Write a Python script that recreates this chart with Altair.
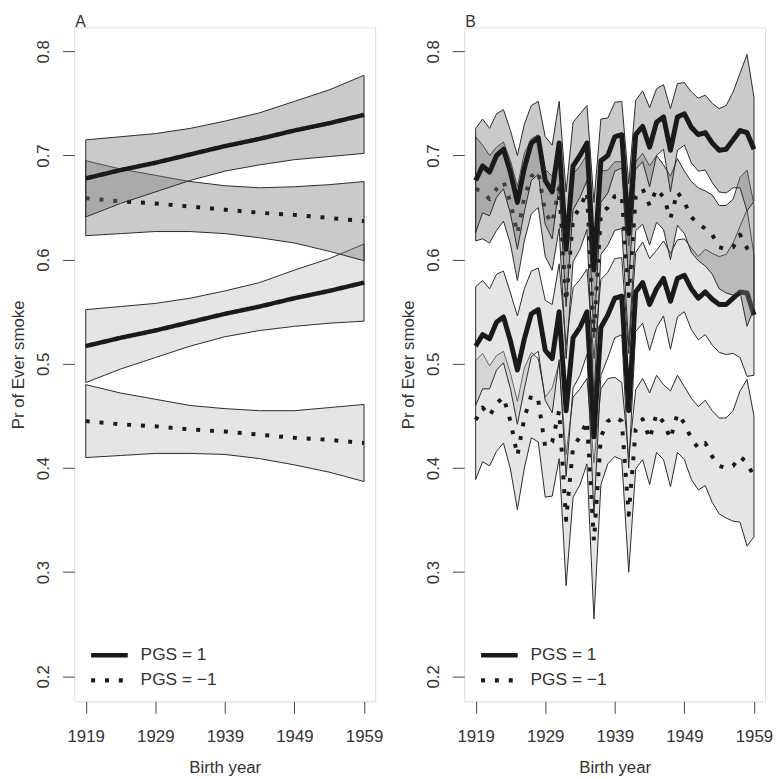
import altair as alt
import pandas as pd

FONT = "Liberation Sans"

# ---------------- Panel A (linear birth-year trend) ----------------
years_a = [1919, 1924, 1929, 1934, 1939, 1944, 1949, 1954, 1959]
a_s1_c = [0.678, 0.686, 0.693, 0.701, 0.709, 0.716, 0.724, 0.731, 0.739]
a_s1_lo = [0.641, 0.654, 0.665, 0.676, 0.685, 0.691, 0.696, 0.699, 0.702]
a_s1_hi = [0.715, 0.718, 0.721, 0.726, 0.733, 0.741, 0.752, 0.763, 0.777]
a_d1_c = [0.659, 0.656, 0.654, 0.651, 0.648, 0.645, 0.643, 0.640, 0.637]
a_d1_lo = [0.623, 0.625, 0.627, 0.627, 0.625, 0.621, 0.616, 0.608, 0.599]
a_d1_hi = [0.695, 0.687, 0.681, 0.675, 0.671, 0.669, 0.670, 0.672, 0.675]
a_s2_c = [0.517, 0.525, 0.532, 0.540, 0.548, 0.555, 0.563, 0.570, 0.578]
a_s2_lo = [0.482, 0.495, 0.506, 0.517, 0.526, 0.532, 0.536, 0.539, 0.541]
a_s2_hi = [0.552, 0.555, 0.558, 0.563, 0.570, 0.578, 0.590, 0.601, 0.615]
a_d2_c = [0.445, 0.442, 0.440, 0.437, 0.435, 0.432, 0.429, 0.427, 0.424]
a_d2_lo = [0.410, 0.412, 0.414, 0.414, 0.413, 0.409, 0.403, 0.396, 0.387]
a_d2_hi = [0.480, 0.472, 0.466, 0.460, 0.457, 0.455, 0.455, 0.458, 0.461]

# ---------------- Panel B (birth year as factor) ----------------
years_b = [1919, 1920, 1921, 1922, 1923, 1924, 1925, 1926, 1927, 1928,
           1929, 1930, 1931, 1932, 1933, 1934, 1935, 1936, 1937, 1938,
           1939, 1940, 1941, 1942, 1943, 1944, 1945, 1946, 1947, 1948,
           1949, 1950, 1951, 1952, 1953, 1954, 1955, 1956, 1957, 1958, 1959]
b_s1_c = [0.676, 0.690, 0.684, 0.700, 0.706, 0.684, 0.655, 0.688, 0.712, 0.717,
          0.676, 0.665, 0.712, 0.610, 0.690, 0.700, 0.712, 0.590, 0.695, 0.700,
          0.718, 0.720, 0.625, 0.720, 0.728, 0.708, 0.732, 0.737, 0.705, 0.737,
          0.740, 0.727, 0.720, 0.722, 0.712, 0.705, 0.706, 0.715, 0.724, 0.722, 0.706]
b_d1_c = [0.668, 0.665, 0.658, 0.668, 0.675, 0.655, 0.625, 0.660, 0.680, 0.685,
          0.645, 0.635, 0.670, 0.560, 0.640, 0.650, 0.665, 0.530, 0.645, 0.650,
          0.661, 0.662, 0.565, 0.661, 0.668, 0.652, 0.668, 0.660, 0.640, 0.665,
          0.655, 0.641, 0.634, 0.630, 0.624, 0.612, 0.610, 0.612, 0.624, 0.611, 0.603]
b_s2_c = [0.517, 0.528, 0.524, 0.540, 0.545, 0.522, 0.494, 0.524, 0.548, 0.552,
          0.513, 0.505, 0.550, 0.455, 0.525, 0.535, 0.550, 0.430, 0.535, 0.547,
          0.563, 0.565, 0.455, 0.569, 0.578, 0.557, 0.572, 0.582, 0.560, 0.582,
          0.585, 0.572, 0.563, 0.569, 0.562, 0.557, 0.557, 0.563, 0.569, 0.568, 0.547]
b_d2_c = [0.446, 0.458, 0.450, 0.462, 0.468, 0.445, 0.412, 0.448, 0.470, 0.465,
          0.420, 0.425, 0.455, 0.350, 0.420, 0.430, 0.445, 0.330, 0.430, 0.445,
          0.449, 0.445, 0.355, 0.437, 0.447, 0.428, 0.452, 0.444, 0.428, 0.452,
          0.443, 0.428, 0.419, 0.424, 0.411, 0.402, 0.400, 0.402, 0.411, 0.405, 0.392]
# half-widths of the confidence bands (dark = upper group, light = lower group)
b_hw_dark = [0.050, 0.045, 0.042, 0.040, 0.038, 0.040, 0.045, 0.042, 0.036, 0.035,
             0.042, 0.045, 0.040, 0.055, 0.042, 0.040, 0.036, 0.065, 0.040, 0.036,
             0.033, 0.032, 0.048, 0.033, 0.034, 0.038, 0.032, 0.031, 0.040, 0.032,
             0.030, 0.034, 0.035, 0.036, 0.038, 0.040, 0.042, 0.046, 0.055, 0.075, 0.050]
b_hw_light = [0.057, 0.052, 0.048, 0.046, 0.044, 0.046, 0.052, 0.048, 0.041, 0.040,
              0.048, 0.052, 0.046, 0.063, 0.048, 0.046, 0.041, 0.075, 0.046, 0.041,
              0.038, 0.037, 0.055, 0.038, 0.039, 0.044, 0.037, 0.036, 0.046, 0.037,
              0.035, 0.039, 0.040, 0.041, 0.044, 0.046, 0.048, 0.053, 0.063, 0.080, 0.058]

PGS_POS = "PGS = 1"
PGS_NEG = "PGS = \u22121"
panel_labels = ["A", "B"]

rows = []


def add(panel, grp, pgs, years, c, lo, hi):
    for y, cc, l, h in zip(years, c, lo, hi):
        rows.append(dict(panel=panel, grp=grp, pgs=pgs, year=y, c=cc, lo=l, hi=h))


add("A", "S1", PGS_POS, years_a, a_s1_c, a_s1_lo, a_s1_hi)
add("A", "D1", PGS_NEG, years_a, a_d1_c, a_d1_lo, a_d1_hi)
add("A", "S2", PGS_POS, years_a, a_s2_c, a_s2_lo, a_s2_hi)
add("A", "D2", PGS_NEG, years_a, a_d2_c, a_d2_lo, a_d2_hi)
for grp, pgs, c, hw in [("S1", PGS_POS, b_s1_c, b_hw_dark), ("D1", PGS_NEG, b_d1_c, b_hw_dark),
                        ("S2", PGS_POS, b_s2_c, b_hw_light), ("D2", PGS_NEG, b_d2_c, b_hw_light)]:
    add("B", grp, pgs, years_b, c, [a - b for a, b in zip(c, hw)], [a + b for a, b in zip(c, hw)])

df = pd.DataFrame(rows)

TXT = "#333333"
AX = "#444444"

xenc = alt.X("year:Q",
             scale=alt.Scale(domain=[1917.36, 1960.6], nice=False, zero=False),
             axis=alt.Axis(values=[1919, 1929, 1939, 1949, 1959], format="d", grid=False, domain=False,
                           tickSize=12, tickColor=AX, labelFontSize=17, labelColor=TXT, labelFont=FONT,
                           labelBaseline="alphabetic", labelPadding=29, labelOverlap=False, labelFlush=False,
                           title="Birth year", titleFontSize=17, titleFontWeight="normal", titleColor=TXT,
                           titleFont=FONT, titleBaseline="alphabetic", titleY=72))
yscale = alt.Scale(domain=[0.176, 0.823], nice=False, zero=False)
yaxis = alt.Axis(values=[0.2, 0.3, 0.4, 0.5, 0.6, 0.7, 0.8], format=".1f", grid=False, domain=False,
                 tickSize=12, tickColor=AX, labelFontSize=17, labelColor=TXT, labelFont=FONT,
                 labelAngle=270, labelAlign="center", labelBaseline="alphabetic", labelPadding=14,
                 labelOverlap=False, labelFlush=False,
                 title="Pr of Ever smoke", titleFontSize=17, titleFontWeight="normal", titleColor=TXT,
                 titleFont=FONT, titleAngle=270, titleBaseline="alphabetic", titleAlign="center", titleX=-51)

sd = alt.StrokeDash("pgs:N",
                    scale=alt.Scale(domain=[PGS_POS, PGS_NEG], range=[[1, 0], [4, 10]]),
                    legend=alt.Legend(title=None, orient="none", legendX=23, legendY=622,
                                      symbolType="M-1.85,0H1.85", symbolSize=400, symbolStrokeWidth=4.5,
                                      symbolStrokeColor="#1a1a1a", labelFontSize=17.5, labelFont=FONT,
                                      labelColor=TXT, labelOffset=19, rowPadding=3.3, padding=0))

DARK = "#7a7a7a"
LIGHT = "#bdbdbd"


def panel(p, lw):
    base = alt.Chart(df)
    layers = []
    for grp, fillc, dotted in [("D2", LIGHT, True), ("S2", LIGHT, False),
                               ("D1", DARK, True), ("S1", DARK, False)]:
        f = f"datum.panel == '{p}' && datum.grp == '{grp}'"
        band = base.transform_filter(f).mark_area(
            fill=fillc, fillOpacity=0.4, stroke="#2a2a2a", strokeWidth=1
        ).encode(x=xenc, y=alt.Y("lo:Q", scale=yscale, axis=yaxis), y2="hi:Q")
        line = base.transform_filter(f).mark_line(
            color="#1a1a1a", strokeWidth=(4 if dotted else lw), strokeCap="butt", strokeJoin="round"
        ).encode(x=xenc, y=alt.Y("c:Q", scale=yscale, axis=yaxis), strokeDash=sd)
        layers += [band, line]
    letter = alt.Chart(pd.DataFrame({"lab": [panel_labels[0] if p == "A" else panel_labels[1]]})).mark_text(
        align="left", baseline="alphabetic", fontSize=16, font=FONT, color=TXT, dx=1, dy=-0.5
    ).encode(x=alt.value(0), y=alt.value(0), text="lab:N")
    layers.append(letter)
    return alt.layer(*layers).properties(width=304, height=681)


chart = alt.hconcat(panel("A", 4.5), panel("B", 5), spacing=90, bounds="flush").resolve_scale(
    strokeDash="independent").resolve_legend(strokeDash="independent").properties(
    autosize=alt.AutoSizeParams(type="none"),
    padding={"left": 67, "top": 12, "right": 708, "bottom": 759}
).configure_view(stroke=AX, strokeWidth=1).configure(font=FONT, background="white")

chart.save("out.html", embed_options={"renderer": "svg", "actions": False})
